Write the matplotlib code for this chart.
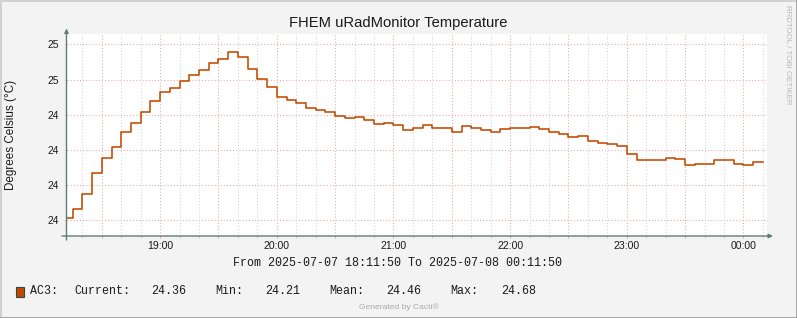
import matplotlib
matplotlib.use("Agg")
import matplotlib.pyplot as plt
import matplotlib.dates as mdates
from matplotlib.ticker import FixedLocator, FuncFormatter
import pandas as pd

plt.rcParams["font.family"] = ["Liberation Sans", "DejaVu Sans"]

# ---------------- data ----------------
title = "FHEM uRadMonitor Temperature"
y_label = "Degrees Celsius (°C)"
series_name = "AC3"
start_time = "2025-07-07 18:10"   # start of first 5-minute bin
bin_minutes = 5
temperature = [
    24.206, 24.231, 24.274, 24.334, 24.376, 24.407, 24.450, 24.476, 24.507, 24.538,
    24.564, 24.575, 24.597, 24.612, 24.626, 24.646, 24.659, 24.677, 24.663, 24.629,
    24.601, 24.578, 24.549, 24.541, 24.532, 24.518, 24.513, 24.509, 24.495, 24.490,
    24.493, 24.484, 24.473, 24.476, 24.470, 24.456, 24.461, 24.470, 24.461, 24.461,
    24.450, 24.467, 24.461, 24.456, 24.450, 24.459, 24.461, 24.461, 24.464, 24.459,
    24.450, 24.444, 24.436, 24.439, 24.424, 24.419, 24.416, 24.410, 24.388, 24.370,
    24.370, 24.370, 24.376, 24.373, 24.356, 24.359, 24.359, 24.370, 24.370, 24.359,
    24.356, 24.365,
]
range_start = "2025-07-07 18:11:50"
range_end = "2025-07-08 00:11:50"
y_ticks = [24.2, 24.3, 24.4, 24.5, 24.6, 24.7]
y_tick_labels = ["24", "24", "24", "24", "25", "25"]
stat_names = ["Current:", "Min:", "Mean:", "Max:"]
stat_values = ["24.36", "24.21", "24.46", "24.68"]

# ---------------- figure ----------------
W, H = 797, 318
fig = plt.figure(figsize=(W / 100, H / 100), dpi=100, facecolor="#F3F3F3")


def fx(x):
    return x / W


def fy(y):
    return 1 - y / H


ax = fig.add_axes([fx(66.5), fy(236), (766.5 - 66.5) / W, (236 - 34) / H])
ax.set_facecolor("white")

times = pd.date_range(start_time, periods=len(temperature), freq=f"{bin_minutes}min")
xs = list(times) + [times[-1] + pd.Timedelta(minutes=bin_minutes)]
ys = temperature + [temperature[-1]]
line_color = "#C44800"
ax.step(xs, ys, where="post", color=line_color, lw=1.15, zorder=3)

ax.set_xlim(pd.Timestamp(range_start), pd.Timestamp(range_end))
ax.set_ylim(24.1554, 24.7293)

grid_red = "#EAA6A6"
grid_gray = "#D4D4D4"
ax.xaxis.set_major_locator(mdates.MinuteLocator(byminute=[0, 30]))
ax.xaxis.set_minor_locator(mdates.MinuteLocator(byminute=[0, 10, 20, 30, 40, 50]))


def xfmt(v, pos):
    d = mdates.num2date(v)
    return d.strftime("%H:%M") if d.minute == 0 else ""


ax.xaxis.set_major_formatter(FuncFormatter(xfmt))
ax.yaxis.set_major_locator(FixedLocator(y_ticks))
ax.set_yticklabels(y_tick_labels)

ax.grid(which="major", color=grid_red, linestyle=(0, (1, 2)), lw=0.75, zorder=1)
ax.grid(which="minor", axis="x", color=grid_gray, linestyle=(0, (1, 2)), lw=0.75, zorder=1)
ax.tick_params(axis="x", which="major", direction="out", length=1.6, width=0.75,
               color=grid_red, labelsize=7.6, pad=2.0, labelcolor="#1a1a1a")
ax.tick_params(axis="x", which="minor", direction="out", length=1.6, width=0.75,
               color=grid_gray)
ax.tick_params(axis="y", which="major", direction="out", length=1.5, width=0.75,
               color=grid_red, labelsize=7.4, pad=4.2, labelcolor="#1a1a1a")
for s in ax.spines.values():
    s.set_visible(False)

# axes with arrows
axis_col = "#5F7D73"
arrow = dict(arrowstyle="-|>", color=axis_col, lw=1.0, mutation_scale=6,
             shrinkA=0, shrinkB=0)
fig.add_artist(matplotlib.patches.FancyArrowPatch(
    (66.5, H - 240), (66.5, H - 28.5), transform=None, **arrow))
fig.add_artist(matplotlib.patches.FancyArrowPatch(
    (62, H - 236), (773, H - 236), transform=None, **arrow))

# texts
fig.text(fx(398.5), fy(27.5), title, ha="center", va="baseline", fontsize=10.6,
         color="#1a1a1a")
fig.text(fx(11), fy(135), y_label, rotation=90, ha="center", va="center",
         fontsize=8.4, color="#1a1a1a")
fig.text(fx(787), fy(55), "RRDTOOL / TOBI OETIKER", rotation=270, ha="center",
         va="center", fontsize=5.7, color="#B8B8B8")

mono = ["Liberation Mono", "DejaVu Sans Mono"]
fig.text(fx(397.5), fy(263.5),
         f"From {range_start} To {range_end}", family=mono, ha="center",
         va="center", fontsize=8.4, color="#1a1a1a")

# legend line
fig.add_artist(matplotlib.patches.Rectangle(
    (15.5, H - 296.5), 8, 9.5, transform=None, facecolor=line_color,
    edgecolor="#2E4A40", lw=0.8))
fig.text(fx(29.5), fy(291), f"{series_name}:", family=mono, ha="left", va="center",
         fontsize=8.4, color="#1a1a1a")
name_x = [74, 215.5, 329.5, 450.5]
val_x = [151, 265, 386, 500.8]
for n, v, nx, vx in zip(stat_names, stat_values, name_x, val_x):
    fig.text(fx(nx), fy(291), n, family=mono, ha="left", va="center",
             fontsize=8.4, color="#1a1a1a")
    fig.text(fx(vx), fy(291), v, family=mono, ha="left", va="center",
             fontsize=8.4, color="#1a1a1a")

fig.text(fx(398.5), fy(307), "Generated by Cacti®", ha="center", va="center",
         fontsize=6.1, color="#AAAAAA")

# frame
fig.add_artist(plt.Line2D([0.5, 0.5, W - 0.5], [0.5, H - 0.5, H - 0.5],
                          transform=None, color="#CBCBCB", lw=1.2))
fig.add_artist(plt.Line2D([0.5, W - 0.5, W - 0.5], [0.5, 0.5, H - 0.5],
                          transform=None, color="#999999", lw=1.2))

fig.savefig("out.png", dpi=100, facecolor=fig.get_facecolor())
